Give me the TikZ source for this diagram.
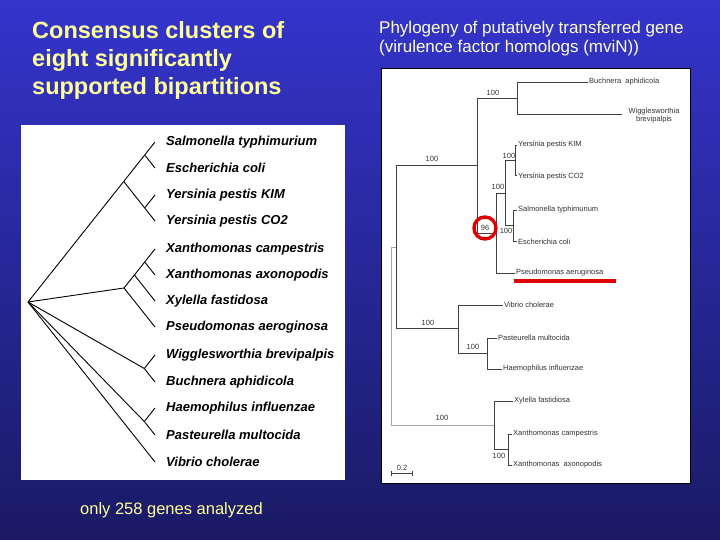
\documentclass[tikz,border=0pt]{standalone}
\usepackage{fontspec}
\setmainfont{Liberation Sans}
\usetikzlibrary{calc}
\definecolor{bgtop}{HTML}{3434CC}
\definecolor{bgbot}{HTML}{1A1A64}
\definecolor{ttl}{HTML}{FFFF99}
\definecolor{ttl2}{HTML}{FFFFCC}
\definecolor{markred}{HTML}{E00000}
\tikzset{
  lbr/.style={line width=0.9pt, black},
  ltip/.style={anchor=west, font=\fontsize{13}{15}\selectfont\bfseries\itshape, inner sep=0pt},
  rbr/.style={line width=0.7pt, black!75},
  rtip/.style={anchor=west, font=\fontsize{7.5}{9}\selectfont, text=black!80, inner sep=0pt},
  rlab/.style={font=\fontsize{7.5}{9}\selectfont, text=black!80, inner sep=0pt},
  hilite/.style={draw=markred, line width=3.4pt},
}
\begin{document}
\begin{tikzpicture}[x=1pt,y=-1pt]
\useasboundingbox (0,0) rectangle (720,540);
\shade[top color=bgtop, bottom color=bgbot] (0,0) rectangle (720,540);

% titles
\node[anchor=north west, align=left, text=ttl, inner sep=0pt,
  font=\fontsize{23.5}{28}\selectfont\bfseries] (title) at (32,21)
  {Consensus clusters of\\eight significantly\\supported bipartitions};
\node[anchor=north west, align=left, text=ttl2, inner sep=0pt,
  font=\fontsize{17}{19}\selectfont] (title2) at (379,21)
  {Phylogeny of putatively transferred gene\\(virulence factor homologs (mviN))};
\node[anchor=west, text=ttl, inner sep=0pt, font=\fontsize{16.5}{19}\selectfont] (note) at (80,510)
  {only 258 genes analyzed};

% ---------- left panel ----------
\fill[white] (21,125) rectangle (345,480);
\foreach \n/\y/\t in {
  sal/142/Salmonella typhimurium,
  eco/168/Escherichia coli,
  ykim/195/Yersinia pestis KIM,
  yco/221/Yersinia pestis CO2,
  xca/249/Xanthomonas campestris,
  xax/275/Xanthomonas axonopodis,
  xyl/301/Xylella fastidosa,
  pse/327/Pseudomonas aeroginosa,
  wig/355/Wigglesworthia brevipalpis,
  buc/382/Buchnera aphidicola,
  hae/408/Haemophilus influenzae,
  pas/435/Pasteurella multocida,
  vib/462/Vibrio cholerae}{
  \coordinate (L\n) at (155,\y);
  \node[ltip] (T\n) at (166,\y) {\t};
}
\coordinate (Lroot) at (28,302);
\coordinate (LA) at (123.7,181.5);
\coordinate (LSE) at (144.7,155);
\coordinate (LY) at (144.7,208);
\coordinate (LB) at (124,288);
\coordinate (LXXf) at (134.4,275);
\coordinate (LXX) at (144.7,262);
\coordinate (LC) at (144.3,368.5);
\coordinate (LD) at (144.3,421.5);
\draw[lbr] (Lroot) -- (LA);
\draw[lbr] (Lroot) -- (LB);
\draw[lbr] (Lroot) -- (LC);
\draw[lbr] (Lroot) -- (LD);
\draw[lbr] (Lroot) -- (Lvib);
\draw[lbr] (LA) -- (LSE);
\draw[lbr] (LA) -- (LY);
\draw[lbr] (LSE) -- (Lsal);
\draw[lbr] (LSE) -- (Leco);
\draw[lbr] (LY) -- (Lykim);
\draw[lbr] (LY) -- (Lyco);
\draw[lbr] (LB) -- (LXXf);
\draw[lbr] (LB) -- (Lpse);
\draw[lbr] (LXXf) -- (LXX);
\draw[lbr] (LXXf) -- (Lxyl);
\draw[lbr] (LXX) -- (Lxca);
\draw[lbr] (LXX) -- (Lxax);
\draw[lbr] (LC) -- (Lwig);
\draw[lbr] (LC) -- (Lbuc);
\draw[lbr] (LD) -- (Lhae);
\draw[lbr] (LD) -- (Lpas);

% ---------- right panel ----------
\draw[fill=white, draw=black, line width=0.8pt] (381,68) rectangle (690,483);
% internal nodes
\coordinate (R) at (391,336);
\coordinate (I) at (396,247);
\coordinate (A) at (477,165.5);
\coordinate (B) at (517,98);
\coordinate (N96) at (496,233);
\coordinate (E) at (505,193);
\coordinate (Y) at (515,160);
\coordinate (S) at (513,225.5);
\coordinate (V) at (458,328.5);
\coordinate (P) at (487,353.5);
\coordinate (X) at (494,425);
\coordinate (XX) at (508,449.5);
% tips
\coordinate (rbuc) at (588,82);
\coordinate (rwig) at (622,114);
\coordinate (rykim) at (517,145);
\coordinate (ryco) at (517,175);
\coordinate (rsal) at (517,210);
\coordinate (reco) at (517,241);
\coordinate (rpse) at (515,273);
\coordinate (rvib) at (503,305);
\coordinate (rpas) at (497,338);
\coordinate (rhae) at (502,369);
\coordinate (rxyl) at (513,401);
\coordinate (rxca) at (512,434);
\coordinate (rxax) at (512,465);

\draw[rbr, black!35] (R) |- (I);
\draw[rbr, black!35] (R) |- (X);
\draw[rbr] (I) |- (A);
\draw[rbr] (I) |- (V);
\draw[rbr] (A) |- (B);
\draw[rbr] (A) |- (N96);
\draw[rbr] (B) |- (rbuc);
\draw[rbr] (B) |- (rwig);
\draw[rbr] (N96) |- (E);
\draw[rbr] (N96) |- (rpse);
\draw[rbr] (E) |- (Y);
\draw[rbr] (E) |- (S);
\draw[rbr] (Y) |- (rykim);
\draw[rbr] (Y) |- (ryco);
\draw[rbr] (S) |- (rsal);
\draw[rbr] (S) |- (reco);
\draw[rbr] (V) |- (rvib);
\draw[rbr] (V) |- (P);
\draw[rbr] (P) |- (rpas);
\draw[rbr] (P) |- (rhae);
\draw[rbr] (X) |- (rxyl);
\draw[rbr] (X) |- (XX);
\draw[rbr] (XX) |- (rxca);
\draw[rbr] (XX) |- (rxax);

% tip labels
\node[rtip] (nbuc) at (589,82) {Buchnera\ \ aphidicola};
\node[rlab, align=center] (nwig) at (654,115.5) {Wigglesworthia\\[-1pt]brevipalpis};
\node[rtip] (nykim) at (518,145) {Yersinia pestis KIM};
\node[rtip] (nyco) at (518,177) {Yersinia pestis CO2};
\node[rtip] (nsal) at (518,210) {Salmonella typhimurium};
\node[rtip] (neco) at (518,242) {Escherichia coli};
\node[rtip] (npse) at (516,273) {Pseudomonas aeruginosa};
\node[rtip] (nvib) at (504,305) {Vibrio cholerae};
\node[rtip] (npas) at (498,338) {Pasteurella multocida};
\node[rtip] (nhae) at (503,369) {Haemophilus influenzae};
\node[rtip] (nxyl) at (514,401) {Xylella fastidiosa};
\node[rtip] (nxca) at (513,434) {Xanthomonas campestris};
\node[rtip] (nxax) at (513,465) {Xanthomonas\ \ axonopodis};

% bootstrap labels
\node[rlab] (bB) at (493,93) {100};
\node[rlab] (bA) at (432,159) {100};
\node[rlab] (bY) at (509,156) {100};
\node[rlab] (bE) at (498,187) {100};
\node[rlab] (bS) at (506,231) {100};
\node[rlab] (b96) at (485,228) {96};
\node[rlab] (bV) at (428,323) {100};
\node[rlab] (bP) at (473,347) {100};
\node[rlab] (bX) at (442,418) {100};
\node[rlab] (bXX) at (499,456) {100};

% highlight
\draw[hilite] (b96) circle (11);
\coordinate (ul1) at (514,281);
\coordinate (ul2) at (616,281);
\draw[hilite] (ul1) -- (ul2);

% scale bar
\coordinate (sb1) at (391,473);
\coordinate (sb2) at (412,473);
\draw[rbr] (sb1) -- (sb2);
\draw[rbr] ($(sb1)+(0,-2.5)$) -- ($(sb1)+(0,2.5)$);
\draw[rbr] ($(sb2)+(0,-2.5)$) -- ($(sb2)+(0,2.5)$);
\node[rlab] (sbl) at (402,468) {0.2};
\end{tikzpicture}
\end{document}
